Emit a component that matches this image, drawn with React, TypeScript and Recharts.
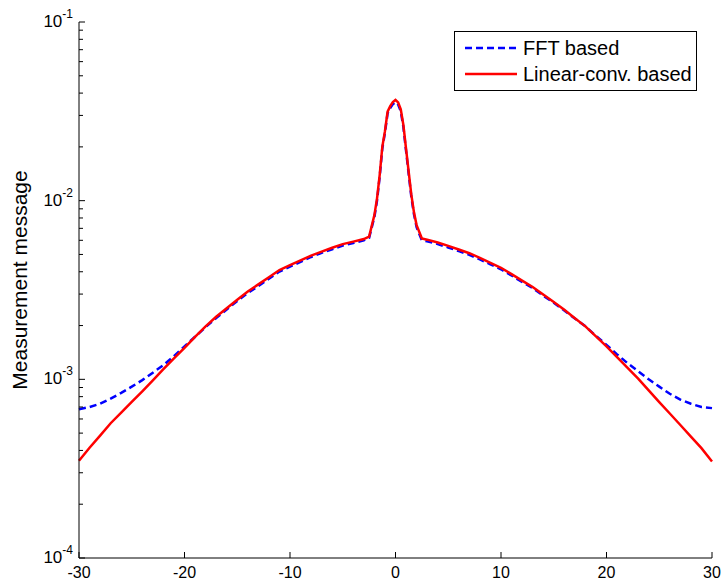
import React from "react";
import { LineChart, Line, XAxis, YAxis } from "recharts";

const xVals = [
  -30, -29, -28, -27, -26, -25, -24, -23, -22, -21, -20, -19, -18, -17, -16, -15, -14, -13, -12, -11,
  -10, -9, -8, -7, -6, -5, -4, -3,
  -2.5, -2, -1.75, -1.5, -1.25, -1, -0.75, -0.5, -0.25, 0, 0.25, 0.5, 0.75, 1, 1.25, 1.5, 1.75, 2, 2.5,
  3, 4, 5, 6, 7, 8, 9, 10, 11, 12, 13, 14, 15, 16, 17, 18, 19, 20, 21, 22, 23, 24, 25, 26, 27, 28, 29, 30,
];

const fftVals = [
  6.8e-4, 7.0e-4, 7.3e-4, 7.8e-4, 8.4e-4, 9.1e-4, 9.9e-4, 1.09e-3, 1.2e-3, 1.35e-3,
  1.53e-3, 1.73e-3, 1.96e-3, 2.2e-3, 2.46e-3, 2.74e-3, 3.04e-3, 3.33e-3, 3.66e-3, 4.01e-3,
  4.28e-3, 4.54e-3, 4.84e-3, 5.1e-3, 5.35e-3, 5.6e-3, 5.8e-3, 6.0e-3,
  6.2e-3, 8.1e-3, 1.0e-2, 1.36e-2, 1.96e-2, 2.4e-2, 3.08e-2, 3.3e-2, 3.47e-2, 3.56e-2,
  3.45e-2, 3.16e-2, 2.58e-2, 1.9e-2, 1.41e-2, 1.05e-2, 8.4e-3, 7.1e-3, 6.0e-3,
  5.92e-3, 5.72e-3, 5.47e-3, 5.22e-3, 4.98e-3, 4.69e-3, 4.4e-3, 4.13e-3, 3.81e-3, 3.51e-3,
  3.24e-3, 2.94e-3, 2.68e-3, 2.43e-3, 2.19e-3, 1.98e-3, 1.75e-3, 1.56e-3, 1.38e-3, 1.23e-3,
  1.11e-3, 1.0e-3, 9.1e-4, 8.3e-4, 7.7e-4, 7.3e-4, 7.0e-4, 6.9e-4,
];

const convVals = [
  3.5e-4, 4.14e-4, 4.84e-4, 5.68e-4, 6.52e-4, 7.48e-4, 8.57e-4, 9.86e-4, 1.14e-3, 1.31e-3,
  1.5e-3, 1.73e-3, 1.98e-3, 2.24e-3, 2.5e-3, 2.79e-3, 3.1e-3, 3.4e-3, 3.73e-3, 4.09e-3,
  4.36e-3, 4.63e-3, 4.93e-3, 5.19e-3, 5.45e-3, 5.71e-3, 5.9e-3, 6.1e-3,
  6.3e-3, 8.3e-3, 1.03e-2, 1.39e-2, 2.0e-2, 2.45e-2, 3.15e-2, 3.38e-2, 3.56e-2, 3.66e-2,
  3.55e-2, 3.25e-2, 2.65e-2, 1.95e-2, 1.45e-2, 1.08e-2, 8.6e-3, 7.3e-3, 6.15e-3,
  6.05e-3, 5.83e-3, 5.58e-3, 5.33e-3, 5.08e-3, 4.78e-3, 4.49e-3, 4.21e-3, 3.88e-3, 3.57e-3,
  3.29e-3, 2.98e-3, 2.71e-3, 2.45e-3, 2.2e-3, 1.98e-3, 1.74e-3, 1.53e-3, 1.33e-3, 1.16e-3,
  1.01e-3, 8.67e-4, 7.46e-4, 6.44e-4, 5.55e-4, 4.78e-4, 4.12e-4, 3.47e-4,
];

const xTicks = [-30, -20, -10, 0, 10, 20, 30];
const yTicks = [
  1e-4, 2e-4, 3e-4, 4e-4, 5e-4, 6e-4, 7e-4, 8e-4, 9e-4,
  1e-3, 2e-3, 3e-3, 4e-3, 5e-3, 6e-3, 7e-3, 8e-3, 9e-3,
  1e-2, 2e-2, 3e-2, 4e-2, 5e-2, 6e-2, 7e-2, 8e-2, 9e-2,
  1e-1,
];

const data = xVals.map((x, i) => ({ x, fft: fftVals[i], conv: convVals[i] }));

const FONT = "'Liberation Sans', Arial, sans-serif";

const isMajor = (v: number) => Math.abs(Math.log10(v) - Math.round(Math.log10(v))) < 1e-6;

const LeftTick = (props: any) => {
  const { x, y, payload } = props;
  const v = payload.value;
  const major = isMajor(v);
  return (
    <g>
      <line x1={x} x2={x + (major ? 6 : 4)} y1={y} y2={y} stroke="#000" strokeWidth={1} />
      {major && (
        <text x={x - 6} y={y + 5} textAnchor="end" fontFamily={FONT} fontSize={17} fill="#000">
          10<tspan dy={-9} fontSize={12}>{Math.round(Math.log10(v))}</tspan>
        </text>
      )}
    </g>
  );
};

const RightTick = (props: any) => {
  const { x, y, payload } = props;
  const major = isMajor(payload.value);
  return <line x1={x} x2={x - (major ? 6 : 4)} y1={y} y2={y} stroke="#000" strokeWidth={1} />;
};

const BottomTick = (props: any) => {
  const { x, y, payload } = props;
  return (
    <g>
      <line x1={x} x2={x} y1={y} y2={y - 6} stroke="#000" strokeWidth={1} />
      <text x={x} y={y + 20} textAnchor="middle" fontFamily={FONT} fontSize={16} fill="#000">
        {payload.value}
      </text>
    </g>
  );
};

const TopTick = (props: any) => {
  const { x, y } = props;
  return <line x1={x} x2={x} y1={y} y2={y + 6} stroke="#000" strokeWidth={1} />;
};

export default function App() {
  return (
    <div style={{ position: "absolute", left: 0, top: 0, width: 723, height: 584, background: "#fff" }}>
      <LineChart width={723} height={584} data={data} margin={{ top: 22, right: 11, left: 30, bottom: 2 }}>
        <XAxis
          dataKey="x"
          type="number"
          domain={[-30, 30]}
          ticks={xTicks}
          height={24}
          tickSize={0}
          tickMargin={0}
          axisLine={{ stroke: "#000" }}
          tickLine={false}
          tick={BottomTick}
          interval={0}
        />
        <XAxis
          xAxisId="top"
          dataKey="x"
          type="number"
          orientation="top"
          domain={[-30, 30]}
          ticks={xTicks}
          height={0}
          tickSize={0}
          tickMargin={0}
          axisLine={{ stroke: "#000" }}
          tickLine={false}
          tick={TopTick}
          interval={0}
        />
        <YAxis
          type="number"
          scale="log"
          domain={[1e-4, 1e-1]}
          allowDataOverflow
          ticks={yTicks}
          width={49}
          tickSize={0}
          tickMargin={0}
          axisLine={{ stroke: "#000" }}
          tickLine={false}
          tick={LeftTick}
          interval={0}
          label={{
            content: () => (
              <text
                x={27}
                y={280}
                transform="rotate(-90 27 280)"
                textAnchor="middle"
                fontFamily={FONT}
                fontSize={21}
                fill="#000"
              >
                Measurement message
              </text>
            ),
          }}
        />
        <YAxis
          yAxisId="right"
          orientation="right"
          type="number"
          scale="log"
          domain={[1e-4, 1e-1]}
          allowDataOverflow
          ticks={yTicks}
          width={0}
          tickSize={0}
          tickMargin={0}
          axisLine={{ stroke: "#000" }}
          tickLine={false}
          tick={RightTick}
          interval={0}
        />
        <Line
          type="linear"
          dataKey="fft"
          stroke="#0000ff"
          strokeWidth={2.5}
          strokeDasharray="7 4"
          dot={false}
          isAnimationActive={false}
        />
        <Line
          type="linear"
          dataKey="conv"
          stroke="#ff0000"
          strokeWidth={2.5}
          dot={false}
          isAnimationActive={false}
        />
      </LineChart>
      <div
        style={{
          position: "absolute",
          left: 454,
          top: 31,
          width: 243,
          height: 60,
          boxSizing: "border-box",
          border: "1px solid #000",
          background: "#fff",
        }}
      >
        <svg width={241} height={58} style={{ display: "block" }}>
          <line x1={10} x2={62} y1={16} y2={16} stroke="#0000ff" strokeWidth={2.5} strokeDasharray="7 4" />
          <text x={68} y={23} fontFamily={FONT} fontSize={20} fill="#000">FFT based</text>
          <line x1={10} x2={62} y1={42} y2={42} stroke="#ff0000" strokeWidth={2.5} />
          <text x={68} y={49} fontFamily={FONT} fontSize={20} fill="#000">Linear-conv. based</text>
        </svg>
      </div>
    </div>
  );
}
